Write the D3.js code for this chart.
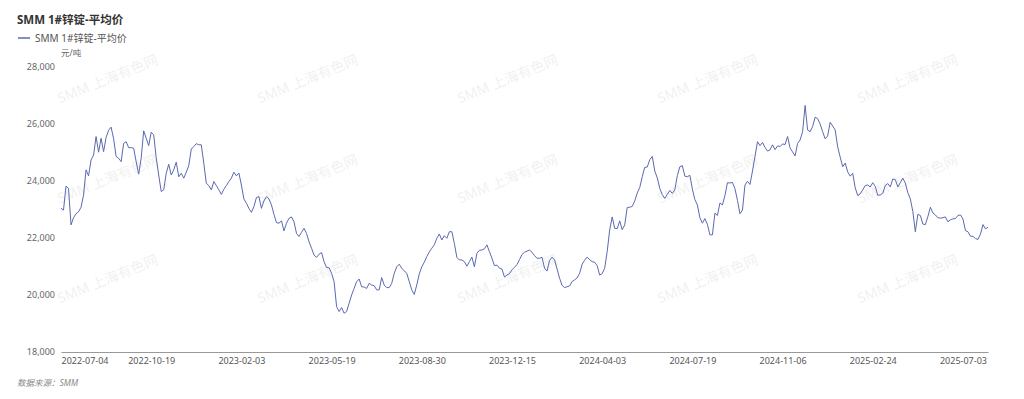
<!DOCTYPE html>
<html>
<head>
<meta charset="utf-8">
<script src="https://cdn.jsdelivr.net/npm/d3@7"></script>
<style>
  body { margin: 0; background: #fff; }
  svg text { font-family: "Noto Sans", "Noto Sans CJK SC", sans-serif; }
</style>
</head>
<body>
<div id="chart"></div>
<script>
// x tick labels, one every 36 points (points are every 2nd trading day)
var tickLabels = ["2022-07-04", "2022-10-19", "2023-02-03", "2023-05-19", "2023-08-30",
                  "2023-12-15", "2024-04-03", "2024-07-19", "2024-11-06", "2025-02-24", "2025-07-03"];
var tickStep = 36;
var yTicks = [18000, 20000, 22000, 24000, 26000, 28000];

// SMM 1# zinc ingot average price, yuan/ton
var zincPrice = [
  23040, 22980, 23820, 23740, 22460, 22710, 22850, 22920, 23080, 23510,
  24390, 24180, 24740, 24910, 25560, 25010, 25500, 25030, 25530, 25780,
  25890, 25480, 24860, 24800, 24680, 25320, 25380, 25170, 25170, 25150,
  24680, 24240, 24800, 25760, 25500, 25240, 25710, 25620, 24820, 24210,
  23630, 23690, 24270, 24590, 24210, 24390, 24660, 24150, 24270, 24100,
  24310, 24540, 25120, 25210, 25310, 25270, 25270, 24620, 23920, 23840,
  23690, 23980, 23840, 23690, 23530, 23710, 23840, 23980, 24100, 24310,
  24180, 24280, 23860, 23370, 23220, 23040, 22900, 23100, 23420, 23450,
  23040, 23300, 23450, 23370, 23160, 22830, 22540, 22520, 22600, 22250,
  22520, 22690, 22740, 22570, 22160, 22050, 22200, 22340, 22160, 21870,
  21640, 21400, 21320, 21430, 21490, 21170, 20960, 20960, 20760, 20470,
  19590, 19420, 19560, 19360, 19420, 19710, 20000, 20230, 20470, 20560,
  20290, 20280, 20230, 20410, 20350, 20330, 20180, 20180, 20610, 20350,
  20260, 20260, 20410, 20760, 20990, 21080, 20940, 20850, 20760, 20470,
  20180, 20020, 20350, 20740, 20990, 21150, 21350, 21510, 21640, 21760,
  21990, 22140, 21930, 22080, 21990, 22220, 22220, 21810, 21320, 21230,
  21230, 21170, 21010, 21170, 21330, 20990, 21460, 21570, 21580, 21620,
  21760, 21520, 21290, 21030, 21050, 20940, 20910, 20630, 20700, 20750,
  20880, 20970, 21070, 21240, 21420, 21500, 21540, 21580, 21500, 21380,
  21290, 21290, 21320, 20940, 20840, 21210, 21330, 21230, 20910, 20590,
  20340, 20260, 20290, 20320, 20470, 20530, 20600, 20760, 21080, 21220,
  21330, 21240, 21170, 21150, 21030, 20700, 20750, 20940, 21520, 22280,
  22740, 22340, 22330, 22600, 22290, 22460, 23070, 23080, 23110, 23300,
  23580, 23770, 24150, 24480, 24490, 24750, 24860, 24350, 24110, 23740,
  23520, 23390, 23530, 23670, 23560, 23690, 24190, 24500, 24540, 24170,
  24150, 24200, 23720, 23350, 23160, 22710, 22520, 22680, 22480, 22110,
  22110, 22870, 22790, 23230, 23160, 23490, 23940, 23930, 23950, 23730,
  23320, 22850, 22980, 23860, 23990, 23880, 24350, 24860, 25380, 25240,
  25350, 25180, 25050, 25090, 25270, 25100, 25230, 25210, 25300, 25280,
  25560, 25160, 25020, 24880, 25320, 25440, 25730, 26650, 25790, 25730,
  25910, 26240, 26190, 26000, 25730, 25480, 25580, 26060, 25930, 25790,
  25200, 24840, 24500, 24630, 24320, 24170, 24270, 23760, 23490, 23550,
  23690, 23840, 23860, 23790, 23940, 23810, 23500, 23510, 23570, 23840,
  23910, 23790, 24070, 24050, 23790, 23940, 24100, 23930, 23590, 23370,
  22930, 22220, 22830, 22790, 22490, 22470, 22750, 23080, 22880, 22810,
  22710, 22700, 22710, 22740, 22570, 22640, 22670, 22680, 22790, 22810,
  22670, 22260, 22220, 22060, 22060, 21980, 21950, 22140, 22470, 22320,
  22380
];

var lineColor = "#5b69b0";
var W = 1024, H = 399;
var margin = {top: 67, right: 36, bottom: 47, left: 61};

var svg = d3.select("#chart")
    .append("svg")
    .attr("width", W)
    .attr("height", H);

// watermark
var wmX = [108, 308, 508, 708, 908];
var wmY = [80, 180, 280];
var wm = svg.append("g");
wmY.forEach(function(y) {
  wmX.forEach(function(x) {
    wm.append("text")
      .attr("transform", "translate(" + x + "," + y + ") rotate(-22)")
      .attr("text-anchor", "middle")
      .attr("dominant-baseline", "middle")
      .style("font-size", "14px")
      .style("fill", "#000")
      .style("opacity", 0.055)
      .text("SMM 上海有色网");
  });
});

// title + legend
svg.append("text")
    .attr("x", 17).attr("y", 24)
    .style("font-size", "11.5px")
    .style("font-weight", "bold")
    .style("fill", "#333")
    .text("SMM 1#锌锭-平均价");

svg.append("line")
    .attr("x1", 18).attr("x2", 30)
    .attr("y1", 38).attr("y2", 38)
    .style("stroke", lineColor)
    .style("stroke-width", 1.5);
svg.append("text")
    .attr("x", 35).attr("y", 41.5)
    .style("font-size", "10px")
    .style("fill", "#555")
    .text("SMM 1#锌锭-平均价");

svg.append("text")
    .attr("x", 61).attr("y", 56)
    .style("font-size", "8.5px")
    .style("fill", "#666")
    .text("元/吨");

var x = d3.scaleLinear()
    .domain([0, zincPrice.length - 1])
    .range([margin.left, W - margin.right]);

var y = d3.scaleLinear()
    .domain([18000, 28000])
    .range([H - margin.bottom, margin.top]);

// y axis labels (no axis line, no grid)
var yAxis = svg.append("g")
    .attr("transform", "translate(" + (margin.left - 6) + ",0)")
    .call(d3.axisLeft(y).tickValues(yTicks).tickSize(0).tickPadding(0).tickFormat(d3.format(",")));
yAxis.select(".domain").remove();
yAxis.selectAll("text")
    .style("font-size", "9px")
    .style("fill", "#666");

// x axis
var xAxis = svg.append("g")
    .attr("transform", "translate(0," + (H - margin.bottom) + ")")
    .call(d3.axisBottom(x)
      .tickValues(tickLabels.map(function(d, i) { return i * tickStep; }))
      .tickSize(0).tickPadding(6)
      .tickFormat(function(d, i) { return tickLabels[i]; }));
xAxis.select(".domain")
    .style("stroke", "#999")
    .style("stroke-width", 1);
xAxis.selectAll("text")
    .style("font-size", "9px")
    .style("fill", "#555")
    .attr("text-anchor", function(d, i) { return i === 0 ? "start" : "middle"; });

// the line
var line = d3.line()
    .x(function(d, i) { return x(i); })
    .y(function(d) { return y(d); });

svg.append("path")
    .datum(zincPrice)
    .attr("d", line)
    .style("fill", "none")
    .style("stroke", lineColor)
    .style("stroke-width", 1)
    .style("stroke-linejoin", "round");

// footer
svg.append("text")
    .attr("x", 17).attr("y", 386)
    .style("font-size", "8.5px")
    .style("font-style", "italic")
    .style("fill", "#888")
    .text("数据来源：SMM");
</script>
</body>
</html>
